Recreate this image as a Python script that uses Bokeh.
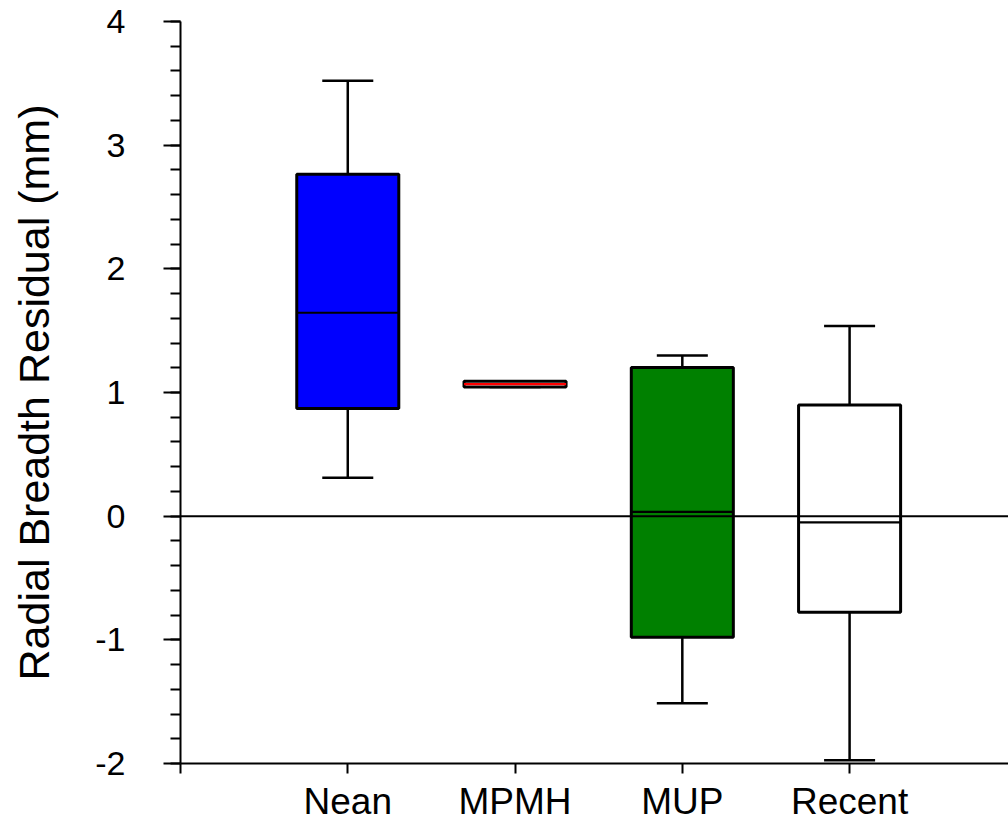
from bokeh.plotting import figure
from bokeh.models import ColumnDataSource, FixedTicker, Span, Range1d
from bokeh.embed import file_html
from bokeh.resources import INLINE

# ---- data ----
groups = ["Nean", "MPMH", "MUP", "Recent"]
positions = [1, 2, 3, 4]
q1 = [0.87, 1.045, -0.98, -0.777]
median = [1.645, 1.067, 0.035, -0.05]
q3 = [2.765, 1.09, 1.203, 0.898]
lower = [0.31, 1.045, -1.513, -1.974]
upper = [3.52, 1.09, 1.30, 1.537]
fills = ["#0000FF", "#FFFFFF", "#008000", "#FFFFFF"]
median_colors = ["black", "#FF0000", "black", "black"]
y_ticks = [-2, -1, 0, 1, 2, 3, 4]
y_tick_labels = ["-2", "-1", "0", "1", "2", "3", "4"]

box_w = 0.61
cap_w = 0.305

src = ColumnDataSource(dict(
    x=positions,
    left=[p - box_w / 2 for p in positions],
    right=[p + box_w / 2 for p in positions],
    cl=[p - cap_w / 2 for p in positions],
    cr=[p + cap_w / 2 for p in positions],
    q1=q1, q2=median, q3=q3, lo=lower, hi=upper,
    fill=fills, mcol=median_colors,
))

W, H = 1008, 824
p = figure(width=W, height=H, output_backend="svg", toolbar_location=None,
           x_range=Range1d(0, 4.95), y_range=Range1d(-2, 4),
           min_border_left=180, min_border_right=0, min_border_top=21,
           min_border_bottom=61)
p.outline_line_color = None
p.grid.visible = False
p.background_fill_color = "white"
p.border_fill_color = "white"

FONT = "Liberation Sans"

# y axis
ya = p.yaxis[0]
ya.ticker = FixedTicker(ticks=y_ticks,
                        minor_ticks=[round(-2 + 0.2 * i, 2) for i in range(31)])
ya.major_label_overrides = {t: l for t, l in zip(y_ticks, y_tick_labels)}
ya.major_tick_in = 0
ya.major_tick_out = 17
ya.minor_tick_in = 0
ya.minor_tick_out = 10
ya.axis_line_width = 2
ya.major_tick_line_width = 2
ya.minor_tick_line_width = 2
ya.major_label_text_font = FONT
ya.major_label_text_font_size = "34px"
ya.major_label_text_color = "black"
ya.major_label_standoff = 38
ya.axis_label = "Radial Breadth Residual (mm)"
ya.axis_label_text_font = FONT
ya.axis_label_text_font_size = "43px"
ya.axis_label_text_font_style = "normal"
ya.axis_label_text_color = "black"
ya.axis_label_standoff = 34

# x axis
xa = p.xaxis[0]
xa.ticker = FixedTicker(ticks=[0] + positions, minor_ticks=[])
xa.major_label_overrides = {0: "", **{pp: g for pp, g in zip(positions, groups)}}
xa.major_tick_in = 0
xa.major_tick_out = 10
xa.minor_tick_out = 0
xa.axis_line_width = 2
xa.major_tick_line_width = 2
xa.major_label_text_font = FONT
xa.major_label_text_font_size = "37px"
xa.major_label_text_color = "black"
xa.major_label_standoff = 7

# zero line
p.add_layout(Span(location=0, dimension="width", line_color="black", line_width=2))

# whiskers
p.segment(x0="x", y0="q3", x1="x", y1="hi", source=src, line_color="black", line_width=2.5)
p.segment(x0="x", y0="q1", x1="x", y1="lo", source=src, line_color="black", line_width=2.5)
p.segment(x0="cl", y0="hi", x1="cr", y1="hi", source=src, line_color="black", line_width=2.5)
p.segment(x0="cl", y0="lo", x1="cr", y1="lo", source=src, line_color="black", line_width=2.5)

# boxes
p.quad(left="left", right="right", bottom="q1", top="q3", source=src,
       fill_color="fill", line_color="black", line_width=3)
# medians
p.segment(x0="left", y0="q2", x1="right", y1="q2", source=src,
          line_color="mcol", line_width=2.2)

open("out.html", "w").write(file_html(p, INLINE))
